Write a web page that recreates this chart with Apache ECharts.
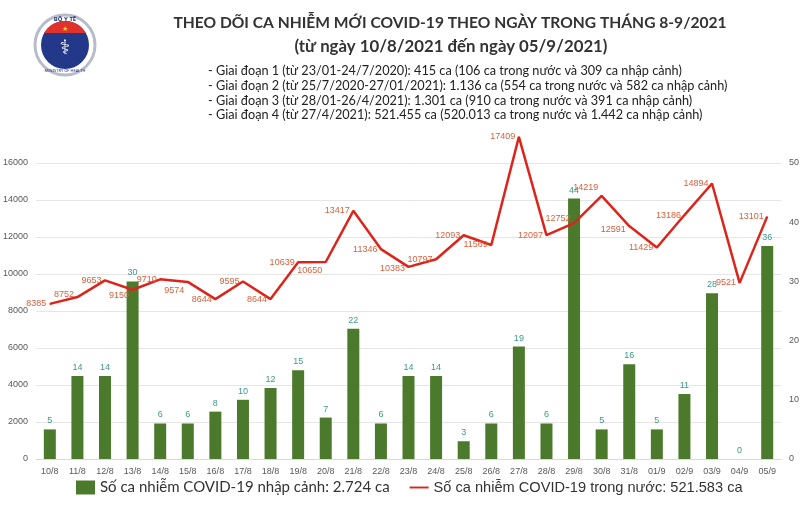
<!DOCTYPE html>
<html>
<head>
<meta charset="utf-8">
<script src="https://cdn.jsdelivr.net/npm/echarts@6/dist/echarts.min.js"></script>
<style>
  html, body { margin: 0; padding: 0; background: #fff; }
  #chart { width: 810px; height: 506px; }
</style>
</head>
<body>
<div id="chart"></div>
<script>
// ngày
var days = ['10/8','11/8','12/8','13/8','14/8','15/8','16/8','17/8','18/8','19/8','20/8','21/8','22/8','23/8',
            '24/8','25/8','26/8','27/8','28/8','29/8','30/8','31/8','01/9','02/9','03/9','04/9','05/9'];
// ca nhập cảnh (trục phải)
var importedCases = [5,14,14,30,6,6,8,10,12,15,7,22,6,14,14,3,6,19,6,44,5,16,5,11,28,0,36];
// ca trong nước (trục trái)
var domesticCases = [8385,8752,9653,9150,9710,9574,8644,9595,8644,10639,10650,13417,11346,10383,
                     10797,12093,11569,17409,12097,12752,14219,12591,11429,13186,14894,9521,13101];
// trục trái: 0..16000 bước 2000 (có thêm khoảng trống phía trên cho đỉnh 17409)
var leftTicks = [0, 18000, 2000];
// trục phải: 0..50 bước 10, cùng tỉ lệ với trục trái (16000 ~ 50)
var rightTicks = [0, 56.25, 10];

var titleText = 'THEO DÕI CA NHIỄM MỚI COVID-19 THEO NGÀY TRONG THÁNG 8-9/2021';
var subTitleText = '(từ ngày 10/8/2021 đến ngày 05/9/2021)';
var periodLines = [
    '- Giai đoạn 1 (từ 23/01-24/7/2020): 415 ca (106 ca trong nước và 309 ca nhập cảnh)',
    '- Giai đoạn 2 (từ 25/7/2020-27/01/2021): 1.136 ca (554 ca trong nước và 582 ca nhập cảnh)',
    '- Giai đoạn 3 (từ 28/01-26/4/2021): 1.301 ca (910 ca trong nước và 391 ca nhập cảnh)',
    '- Giai đoạn 4 (từ 27/4/2021): 521.455 ca (520.013 ca trong nước và 1.442 ca nhập cảnh)'
];
var barName = 'Số ca nhiễm COVID-19 nhập cảnh: 2.724 ca';
var lineName = 'Số ca nhiễm COVID-19 trong nước: 521.583 ca';

var chart = echarts.init(document.getElementById('chart'));

// logo Bộ Y tế (vẽ đơn giản)
var cx = 65, cy = 45, r = 24;
var band = [];
for (var a = -150; a <= -30; a += 5) {
    var rad = a * Math.PI / 180;
    band.push([cx + r * Math.cos(rad), cy + r * Math.sin(rad)]);
}

var graphics = [
    { type: 'circle', shape: { cx: cx, cy: cy, r: 30 }, style: { fill: '#fff', stroke: '#b8bcc8', lineWidth: 3 } },
    { type: 'circle', shape: { cx: cx, cy: cy, r: r }, style: { fill: '#24388a' } },
    { type: 'polygon', shape: { points: band }, style: { fill: '#e0322b' } },
    { type: 'text', x: cx, y: cy - 16, style: { text: '★', fill: '#f5d23a', font: '7px sans-serif', align: 'center', verticalAlign: 'middle' } },
    { type: 'text', x: cx, y: cy + 4, style: { text: '⚕', fill: '#ffffff', font: 'bold 20px "DejaVu Sans"', align: 'center', verticalAlign: 'middle' } },
    { type: 'text', x: cx, y: cy - 26, style: { text: 'BỘ Y TẾ', fill: '#24388a', font: 'bold 6px "Noto Sans"', align: 'center', verticalAlign: 'middle' } },
    { type: 'text', x: cx, y: cy + 26, style: { text: 'MINISTRY OF HEALTH', fill: '#24388a', font: '4px "Noto Sans"', align: 'center', verticalAlign: 'middle' } },
    { type: 'text', x: 450, y: 23, style: { text: titleText, fill: '#333', font: 'bold 15.6px Lato', align: 'center', verticalAlign: 'middle' } },
    { type: 'text', x: 451, y: 47, style: { text: subTitleText, fill: '#333', font: 'bold 16.8px Lato', align: 'center', verticalAlign: 'middle' } }
];
periodLines.forEach(function (t, i) {
    graphics.push({ type: 'text', x: 208, y: 71 + i * 14.7,
        style: { text: t, fill: '#222', font: '12.7px Lato', align: 'left', verticalAlign: 'middle' } });
});

// dịch nhãn lên/xuống một chút như bản gốc (chỉ là kiểu dáng)
var labelNudge = { 1: -3, 3: 6, 5: 9, 10: 9, 13: 2, 19: -5, 20: -8, 21: 3 };
var lineData = domesticCases.map(function (v, i) {
    if (labelNudge[i] === undefined) return v;
    return { value: v, label: { offset: [0, labelNudge[i]] } };
});

var option = {
    backgroundColor: '#fff',
    graphic: graphics,
    grid: { left: 33, right: 29, top: 126, bottom: 47 },
    legend: {
        left: 71,
        bottom: 6,
        itemGap: 20,
        itemWidth: 19,
        itemHeight: 14,
        data: [
            { name: barName, icon: 'rect', textStyle: { fontFamily: 'Lato', fontSize: 15, color: '#333' } },
            { name: lineName, icon: 'path://M0,6 L20,6 L20,8 L0,8 Z', textStyle: { fontFamily: 'Liberation Sans', fontSize: 14.6, color: '#333' } }
        ]
    },
    xAxis: {
        type: 'category',
        data: days,
        axisTick: { show: false },
        axisLine: { lineStyle: { color: '#d9d9d9' } },
        axisLabel: { color: '#595959', fontSize: 9, margin: 8, interval: 0 }
    },
    yAxis: [{
        type: 'value',
        min: leftTicks[0], max: leftTicks[1], interval: leftTicks[2],
        axisLabel: { color: '#595959', fontSize: 9, margin: 8, showMaxLabel: false,
                     formatter: function (v) { return String(v); } },
        splitLine: { showMaxLine: false, lineStyle: { color: '#e6e6e6' } }
    }, {
        type: 'value',
        min: rightTicks[0], max: rightTicks[1], interval: rightTicks[2],
        axisLabel: { color: '#595959', fontSize: 9, margin: 8, showMaxLabel: false },
        splitLine: { show: false }
    }],
    series: [{
        name: barName,
        type: 'bar',
        yAxisIndex: 1,
        data: importedCases,
        barWidth: 12,
        itemStyle: { color: '#4c7a2c' },
        label: { show: true, position: 'top', color: '#3c9a8a', fontSize: 9, distance: 4 }
    }, {
        name: lineName,
        type: 'line',
        yAxisIndex: 0,
        data: lineData,
        symbol: 'circle',
        symbolSize: 1,
        lineStyle: { color: '#dc241b', width: 2.5 },
        itemStyle: { color: '#dc241b' },
        label: { show: true, position: 'left', color: '#d9603c', fontSize: 9, distance: 3 },
        z: 3
    }]
};

chart.setOption(option);
</script>
</body>
</html>
